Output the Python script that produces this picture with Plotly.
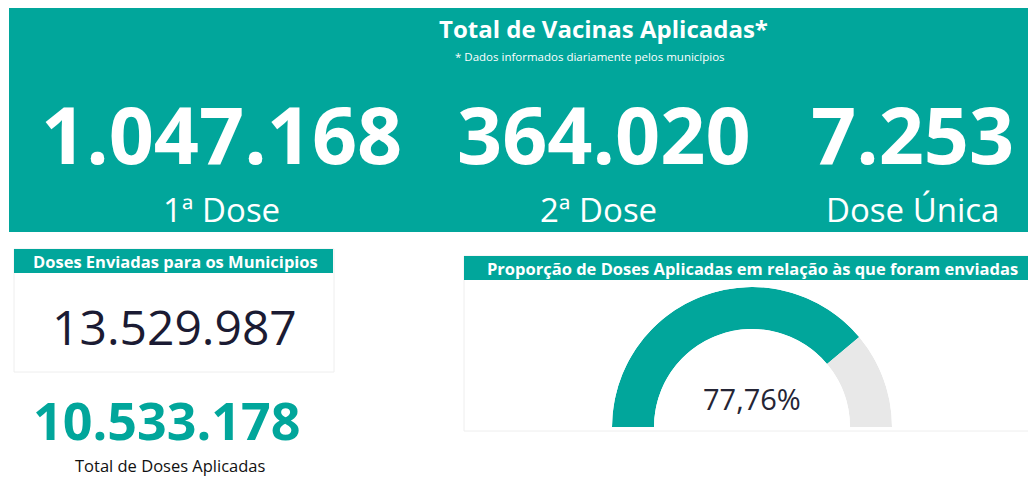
import plotly.graph_objects as go

# ---- data ----
dose_labels = ["1ª Dose", "2ª Dose", "Dose Única"]
dose_values = [1047168, 364020, 7253]
doses_enviadas = 13529987
total_aplicadas = 10533178
proporcao = 77.76  # %

title_text = "Total de Vacinas Aplicadas*"
subtitle_text = "* Dados informados diariamente pelos municípios"
enviadas_title = "Doses Enviadas para os Municipios"
aplicadas_label = "Total de Doses Aplicadas"
gauge_title = "Proporção de Doses Aplicadas em relação às que foram enviadas"

# ---- style ----
W, H = 1028, 477
TEAL = "rgb(1,166,155)"
GRAY = "#E8E8E8"
FONT = "Open Sans"


def fx(x):
    return x / W


def fy(y):
    return 1 - y / H


def fmt(v):
    return f"{v:,}".replace(",", ".")


fig = go.Figure()

# gauge (barpolar, half circle)
ang = proporcao * 1.8
rest = (100 - proporcao) * 1.8
fig.add_trace(go.Barpolar(
    r=[1, 1],
    theta=[ang / 2, ang + rest / 2],
    width=[ang, rest],
    marker=dict(color=[TEAL, GRAY], line=dict(width=0)),
    hoverinfo="skip",
    showlegend=False,
))

cx, cy, R = 752, 427, 140
fig.update_layout(
    polar=dict(
        domain=dict(x=[fx(cx - R), fx(cx + R)], y=[fy(cy), fy(cy - R)]),
        sector=[0, 180],
        hole=0.70,
        bgcolor="rgba(0,0,0,0)",
        angularaxis=dict(visible=False, rotation=180, direction="clockwise"),
        radialaxis=dict(visible=False, range=[0, 1]),
    )
)

shapes = []


def rect(x0, y0, x1, y1, fill, line=None):
    shapes.append(dict(type="rect", xref="paper", yref="paper",
                       x0=fx(x0), x1=fx(x1), y0=fy(y1), y1=fy(y0),
                       fillcolor=fill, line=line or dict(width=0), layer="below"))


# top banner
rect(9, 8, 1030, 232, TEAL)
# left card
rect(14, 249, 334, 372, "white", dict(color="#EEEEEE", width=1))
rect(14, 249, 333, 273, TEAL)
# right card
rect(464, 256, 1030, 431, "white", dict(color="#EEEEEE", width=1))
rect(464, 256, 1030, 280, TEAL)

ann = []


def text(x, y, s, size, color="white", bold=False, anchor="center"):
    ann.append(dict(
        x=fx(x), y=fy(y), xref="paper", yref="paper", showarrow=False,
        text=f"<b>{s}</b>" if bold else s, xanchor=anchor, yanchor="middle",
        font=dict(family=FONT, size=size, color=color),
    ))


text(603, 28, title_text, 24, bold=True)
text(590, 57, subtitle_text, 11.5)

dose_x = [221, 604, 912]
label_x = [221, 598, 912]
for x, lx, v, lab in zip(dose_x, label_x, dose_values, dose_labels):
    text(x, 133, fmt(v), 79, bold=True)
    text(lx, 209, lab, 33)

text(175, 261, enviadas_title, 16.5, bold=True)
text(174, 326, fmt(doses_enviadas), 48, color="#1B1B33")
text(167, 419, fmt(total_aplicadas), 52, color=TEAL, bold=True)
text(170, 465, aplicadas_label, 16.5, color="#111111")

text(752, 268, gauge_title, 16.5, bold=True)
text(752, 398, f"{proporcao:.2f}%".replace(".", ","), 29, color="#252535")

fig.update_layout(
    width=W, height=H,
    margin=dict(l=0, r=0, t=0, b=0),
    paper_bgcolor="white", plot_bgcolor="white",
    shapes=shapes, annotations=ann,
    showlegend=False,
)

fig.write_html(
    "out.html",
    config={"displayModeBar": False},
    post_script="document.body.style.margin='0px';document.body.style.overflow='hidden';",
)
